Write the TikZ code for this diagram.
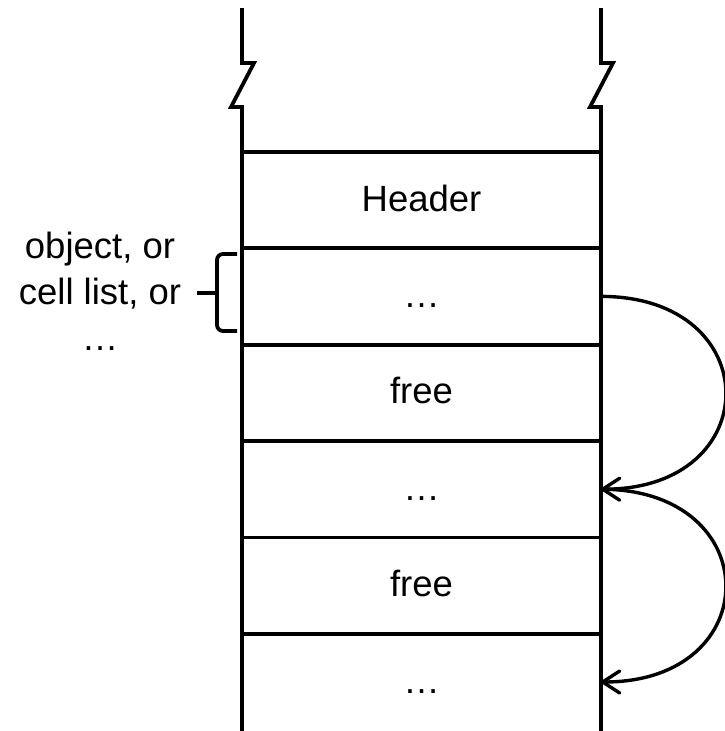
\documentclass[tikz,border=0pt]{standalone}
\usepackage{fontspec}
\setmainfont{Liberation Sans}
\usetikzlibrary{arrows.meta,positioning}

\begin{document}
\begin{tikzpicture}[
    x=1pt, y=-1pt,
    line width=3.8pt,
    node distance=0pt,
    cell/.style={rectangle, minimum width=359pt, minimum height=96.4pt, inner sep=0pt, outer sep=0pt, text height=25pt, text depth=3pt, font=\fontsize{36.5}{46}\selectfont},
    note/.style={align=center, inner sep=0pt, font=\fontsize{36.5}{46}\selectfont},
    link/.style={-{Straight Barb[length=17pt, width=22pt, round]}, line width=3.4pt}
]
    \useasboundingbox (0,0) rectangle (725,731);

    % Cells of the block
    \node [cell] (header) at (421.5,200) {Header};
    \node [cell, below=of header] (slotA) {…};
    \node [cell, below=of slotA] (freeA) {free};
    \node [cell, below=of freeA] (slotB) {…};
    \node [cell, below=of slotB] (freeB) {free};
    \node [cell, below=of freeB] (slotC) {…};

    % Walls, broken at the top
    \foreach \x in {242,601}
        \draw (\x,8) -- (\x,63) -- ++(12,0) -- ++(-23,44) -- ++(11,0) -- (\x,731);

    % Dividers
    \draw (header.north west) -- (header.north east);
    \foreach \c in {header,slotA,freeA,slotB,freeB}
        \draw (\c.south west) -- (\c.south east);

    % What a slot may hold
    \node [note] (kind) at (100,291) {object, or\\cell list, or\\…};
    \coordinate (tip) at (197,293);
    \draw [rounded corners=6pt] (237,254) -- (217,254) -- (217,331) -- (237,331);
    \draw (tip) -- ++(20,0);

    % Free list links
    \draw [link] (slotA.east) .. controls +(166,0) and +(166,0) .. (slotB.east);
    \draw [link] (slotB.east) .. controls +(166,0) and +(166,0) .. (slotC.east);
\end{tikzpicture}
\end{document}
